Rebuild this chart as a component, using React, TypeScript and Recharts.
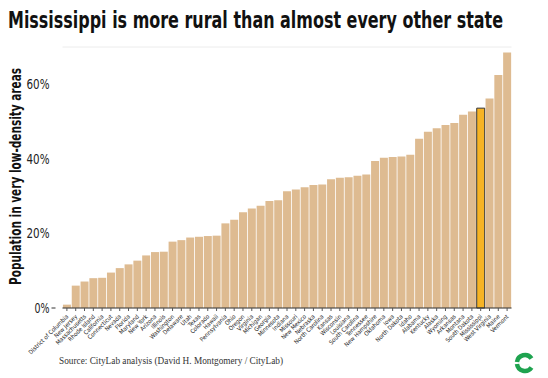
import React from 'react';
import { BarChart, Bar, XAxis, YAxis, CartesianGrid, Cell } from 'recharts';

const states = [
  'District of Columbia', 'New Jersey', 'Massachusetts', 'Rhode Island', 'California', 'Connecticut',
  'Nevada', 'Florida', 'Maryland', 'New York', 'Arizona', 'Illinois', 'Washington', 'Delaware', 'Utah',
  'Texas', 'Colorado', 'Hawaii', 'Pennsylvania', 'Ohio', 'Oregon', 'Virginia', 'Michigan', 'Georgia',
  'Minnesota', 'Indiana', 'Missouri', 'New Mexico', 'Nebraska', 'North Carolina', 'Kansas', 'Wisconsin',
  'Louisiana', 'South Carolina', 'Tennessee', 'New Hampshire', 'Oklahoma', 'Iowa', 'North Dakota', 'Idaho',
  'Alabama', 'Kentucky', 'Alaska', 'Wyoming', 'Arkansas', 'Montana', 'South Dakota', 'Mississippi',
  'West Virginia', 'Maine', 'Vermont',
];

const shares = [
  0.9, 6.0, 7.1, 8.0, 8.1, 9.5,
  10.7, 11.7, 12.7, 14.1, 15.0, 15.1, 17.8, 18.2, 18.9,
  19.1, 19.3, 19.4, 22.7, 23.7, 25.7, 26.7, 27.4, 28.7,
  28.9, 31.3, 31.8, 32.4, 33.0, 33.1, 34.5, 34.9,
  35.1, 35.5, 35.8, 39.4, 40.3, 40.5, 40.6, 41.1,
  45.4, 47.3, 48.2, 49.1, 49.6, 51.8, 52.7, 53.6,
  56.2, 62.5, 68.5,
];

const yTicks = [0, 10, 20, 30, 40, 50, 60, 70];
const labelledTicks = [0, 20, 40, 60];
const highlight = 'Mississippi';

const title = 'Mississippi is more rural than almost every other state';
const yTitle = 'Population in very low-density areas';
const source = 'Source: CityLab analysis (David H. Montgomery / CityLab)';

const data = states.map((s, i) => ({ state: s, share: shares[i] }));

const NARROW = '"DejaVu Sans Condensed", "DejaVu Sans", sans-serif';

const XTick = (props: any) => {
  const { x, y, payload } = props;
  return (
    <text
      x={x + 2}
      y={y + 4}
      transform={`rotate(-45 ${x + 2} ${y + 4})`}
      textAnchor="end"
      fontSize={6}
      fill="#222"
      fontFamily={NARROW}
      style={{ fontStretch: 'condensed' }}
    >
      {payload.value}
    </text>
  );
};

const YTickLeft = (props: any) => {
  const { x, y, payload } = props;
  if (!labelledTicks.includes(payload.value)) return null;
  return (
    <g>
      {payload.value === 0 && <line x1={x - 3} x2={x + 1} y1={y} y2={y} stroke="#333" strokeWidth={1} />}
      <text
        x={x - 5}
        y={y}
        dy={5}
        textAnchor="end"
        fontSize={14.5}
        fill="#222"
        fontFamily={NARROW}
        textLength={payload.value === 0 ? 15 : 23}
        lengthAdjust="spacingAndGlyphs"
        style={{ fontStretch: 'condensed' }}
      >
        {`${payload.value}%`}
      </text>
    </g>
  );
};

const YTickRight = (props: any) => {
  const { x, y, payload } = props;
  if (!labelledTicks.includes(payload.value)) return null;
  return (
    <g>
      {payload.value === 0 && <line x1={x - 1} x2={x + 3} y1={y} y2={y} stroke="#333" strokeWidth={1} />}
      <text
        x={x + 5}
        y={y}
        dy={5}
        textAnchor="start"
        fontSize={14.5}
        fill="#222"
        fontFamily={NARROW}
        textLength={payload.value === 0 ? 15 : 23}
        lengthAdjust="spacingAndGlyphs"
        style={{ fontStretch: 'condensed' }}
      >
        {`${payload.value}%`}
      </text>
    </g>
  );
};

export default function App() {
  return (
    <div style={{ position: 'absolute', left: 0, top: 0, width: 548, height: 378, background: '#fff' }}>
      <BarChart
        width={548}
        height={378}
        data={data}
        margin={{ top: 47, right: 0, bottom: 0, left: 0 }}
        barCategoryGap="5%"
      >
        <CartesianGrid vertical={false} stroke="#ececec" strokeWidth={1} />
        <XAxis
          dataKey="state"
          interval={0}
          height={70}
          tick={<XTick />}
          tickLine={{ stroke: '#555' }}
          tickSize={3}
          axisLine={{ stroke: '#333', strokeWidth: 1 }}
        />
        <YAxis
          yAxisId="left"
          domain={[0, 70]}
          ticks={yTicks}
          width={62.5}
          axisLine={false}
          tickLine={false}
          tick={<YTickLeft />}
        />
        <YAxis
          yAxisId="right"
          orientation="right"
          domain={[0, 70]}
          ticks={yTicks}
          width={36.5}
          axisLine={false}
          tickLine={false}
          tick={<YTickRight />}
        />
        <Bar dataKey="share" yAxisId="left" isAnimationActive={false}>
          {data.map((d) => (
            <Cell
              key={d.state}
              fill={d.state === highlight ? '#F6B324' : '#DEBB91'}
              stroke={d.state === highlight ? '#333' : 'none'}
              strokeWidth={d.state === highlight ? 1 : 0}
            />
          ))}
        </Bar>
      </BarChart>
      <svg
        width={548}
        height={378}
        style={{ position: 'absolute', left: 0, top: 0, pointerEvents: 'none' }}
      >
        <text
          x={0}
          y={0}
          transform="translate(8 28) scale(1 1.1)"
          fontSize={21}
          fontWeight="bold"
          fill="#111"
          fontFamily={NARROW}
          textLength={495}
          lengthAdjust="spacingAndGlyphs"
          style={{ fontStretch: 'condensed' }}
        >
          {title}
        </text>
        <text
          x={0}
          y={0}
          transform="translate(21 176.5) rotate(-90)"
          textAnchor="middle"
          fontSize={15}
          fontWeight="bold"
          fill="#111"
          fontFamily={NARROW}
          textLength={217}
          lengthAdjust="spacingAndGlyphs"
          style={{ fontStretch: 'condensed' }}
        >
          {yTitle}
        </text>
        <text
          x={59}
          y={364}
          fontSize={10}
          fill="#333"
          fontFamily='"Liberation Serif", "DejaVu Serif", serif'
          textLength={224}
          lengthAdjust="spacingAndGlyphs"
        >
          {source}
        </text>
        <g transform="translate(525 363)">
          <path d="M 6.5 -4.5 A 8 8 0 0 0 -8 -1" fill="none" stroke="#1EA34F" strokeWidth={4.5} />
          <path d="M -8 1 A 8 8 0 0 0 6.5 4.5" fill="none" stroke="#1EA34F" strokeWidth={4.5} />
        </g>
      </svg>
    </div>
  );
}
